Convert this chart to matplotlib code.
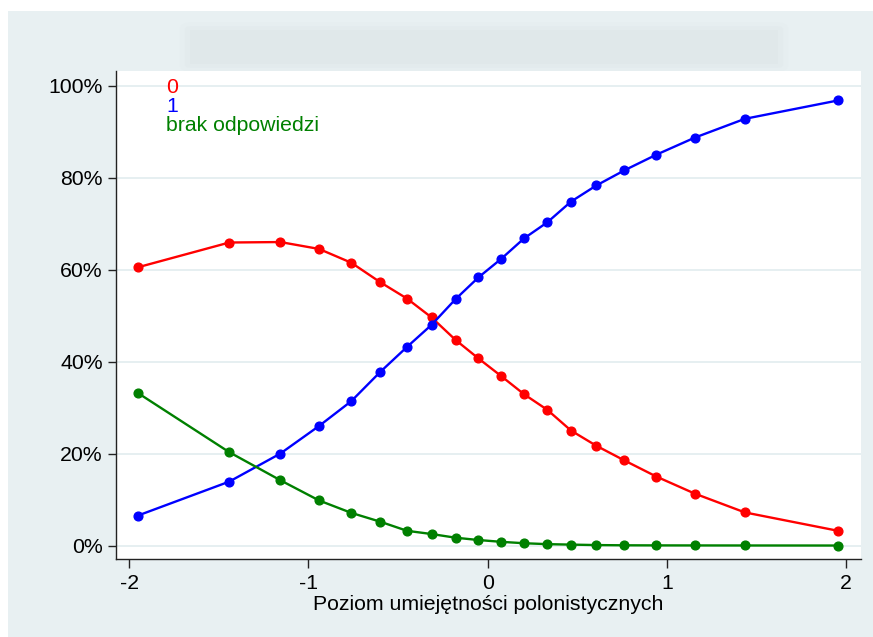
import matplotlib
matplotlib.use("Agg")
import matplotlib.pyplot as plt
from matplotlib.patches import Rectangle, FancyBboxPatch
from matplotlib.ticker import FuncFormatter

plt.rcParams['font.family'] = ['Liberation Sans', 'DejaVu Sans']

# skill level (x) and share of answers in percent
skill = [-1.953, -1.442, -1.157, -0.941, -0.761, -0.601, -0.450, -0.313, -0.179, -0.052,
         0.077, 0.203, 0.333, 0.465, 0.606, 0.763, 0.941, 1.155, 1.435, 1.955]
answer_0 = [60.5, 65.9, 66.0, 64.5, 61.5, 57.3, 53.7, 49.6, 44.7, 40.7,
            36.8, 32.9, 29.5, 25.0, 21.7, 18.5, 15.0, 11.3, 7.2, 3.2]
answer_1 = [6.5, 13.9, 20.0, 26.0, 31.4, 37.7, 43.2, 48.0, 53.6, 58.3,
            62.4, 66.8, 70.3, 74.8, 78.3, 81.6, 85.0, 88.7, 92.8, 96.8]
no_answer = [33.2, 20.3, 14.2, 9.8, 7.1, 5.2, 3.2, 2.5, 1.7, 1.2,
             0.8, 0.5, 0.3, 0.2, 0.1, 0.05, 0.03, 0.02, 0.01, 0.0]

series_labels = ['0', '1', 'brak odpowiedzi']
series_colors = ['#ff0000', '#0000ff', '#008000']
x_ticks = [-2, -1, 0, 1, 2]
y_ticks = [0, 20, 40, 60, 80, 100]
x_title = 'Poziom umiejętności polonistycznych'

bg = '#e8f0f2'
fs = 15.3
fig = plt.figure(figsize=(8.73, 6.37), dpi=100)
fig.patch.set_facecolor('white')
# light panel behind the graph
fig.patches.append(Rectangle((8 / 873, 0), 1, 1 - 11 / 637, transform=fig.transFigure,
                             facecolor=bg, edgecolor='none', zorder=-5))
# blurred (unreadable) title block
for pad, a in [(0.012, 0.15), (0.006, 0.25), (0.0, 0.35)]:
    fig.patches.append(FancyBboxPatch((190 / 873, 1 - 64 / 637), 588 / 873, 34 / 637,
                                      boxstyle='round,pad=%f' % pad, transform=fig.transFigure,
                                      facecolor='#dce4e7', edgecolor='none', alpha=a, zorder=-4))

ax = fig.add_axes([116 / 873, 1 - 559 / 637, 745 / 873, 488 / 637])
ax.set_zorder(1)
ax.set_facecolor('white')

for vals, c in zip([answer_0, answer_1, no_answer], series_colors):
    ax.plot(skill, vals, color=c, lw=1.7, marker='o', ms=6.3, mec=c, mfc=c, zorder=3)

ax.set_xlim(-2.074, 2.083)
ax.set_ylim(-2.93, 103.2)
ax.set_xticks(x_ticks)
ax.set_yticks(y_ticks)
ax.xaxis.set_major_formatter(FuncFormatter(lambda v, p: '%d' % v))
ax.yaxis.set_major_formatter(FuncFormatter(lambda v, p: '%d%%' % v))
ax.grid(axis='y', color='#e6eff1', lw=1.4, zorder=0)
ax.set_axisbelow(True)

for s in ['top', 'right']:
    ax.spines[s].set_visible(False)
for s in ['left', 'bottom']:
    ax.spines[s].set_color('#222222')
    ax.spines[s].set_linewidth(1.0)
ax.tick_params(axis='both', direction='out', width=1.0, color='#222222',
               labelsize=fs, labelcolor='black')
ax.tick_params(axis='x', length=6.5, pad=4.5)
ax.tick_params(axis='y', length=5.5, pad=4)
ax.set_xlabel(x_title, fontsize=fs, labelpad=1)

# legend written as coloured text lines
for i, (lab, c) in enumerate(zip(series_labels, series_colors)):
    ax.text(0.067, 0.955 - i * 0.039, lab, color=c, fontsize=fs,
            transform=ax.transAxes, va='baseline', ha='left')

fig.savefig('out.png', dpi=100, facecolor=fig.get_facecolor())
